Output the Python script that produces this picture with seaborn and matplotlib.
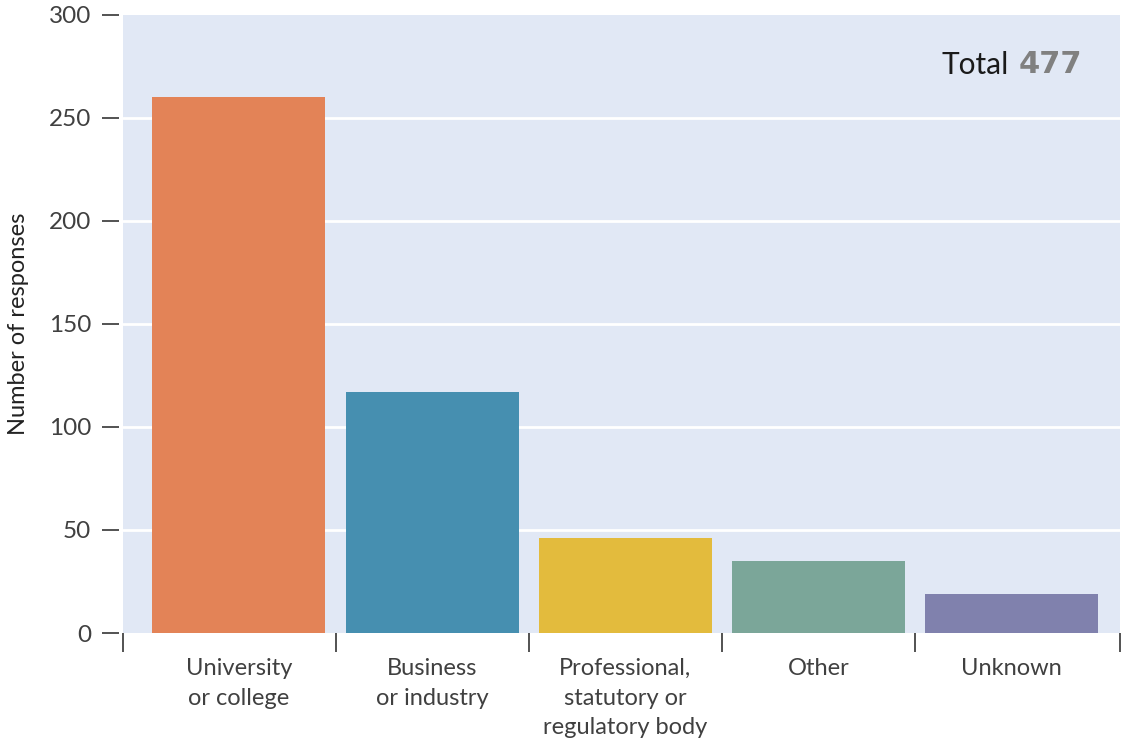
import matplotlib
matplotlib.use("Agg")
import matplotlib.pyplot as plt
import seaborn as sns
import pandas as pd
from matplotlib.ticker import FixedLocator

categories = ["University\nor college", "Business\nor industry",
              "Professional,\nstatutory or\nregulatory body", "Other", "Unknown"]
responses = [260, 117, 46, 35, 19]
colors = ["#E38357", "#468FB0", "#E3BB3D", "#7BA699", "#8081AD"]
y_ticks = [0, 50, 100, 150, 200, 250, 300]
total_label = "Total"
total_value = "477"

df = pd.DataFrame({"category": categories, "responses": responses})

sns.set_theme(style="white")
plt.rcParams['font.family'] = ['Lato', 'DejaVu Sans']

fig = plt.figure(figsize=(11.23, 7.42), dpi=100)
ax = fig.add_axes([0.1095, 0.1469, 0.9973 - 0.1095, 0.9798 - 0.1469])
ax.set_facecolor("#E1E8F5")

sns.barplot(data=df, x="category", y="responses", hue="category",
            palette=colors, width=0.895, ax=ax, legend=False, saturation=1,
            linewidth=0, edgecolor="none")

ax.set_xlim(-0.6, 4.56)
ax.set_ylim(0, 300)
ax.set_yticks(y_ticks)
for y in y_ticks[1:-1]:
    ax.axhline(y, color="white", lw=2, zorder=0.5)

for s in ax.spines.values():
    s.set_visible(False)
ax.spines['left'].set_position(('outward', 3))

ax.tick_params(axis='y', which='major', left=True, length=12, width=1.3,
               color="#444444", labelsize=17.5, labelcolor="#404040", pad=8)
ax.tick_params(axis='x', which='major', bottom=True, length=0, pad=18,
               labelsize=17, labelcolor="#404040")
ax.xaxis.set_minor_locator(FixedLocator([-0.6, 0.5, 1.5, 2.5, 3.5, 4.56]))
ax.tick_params(axis='x', which='minor', bottom=True, length=14, width=1.3,
               color="#444444")
for lab in ax.get_xticklabels():
    lab.set_linespacing(1.5)

ax.set_xlabel("")
ax.set_ylabel("Number of responses", fontsize=17, color="#222222",
              labelpad=14)

t1 = ax.text(0.821, 0.904, total_label, transform=ax.transAxes, fontsize=21.5,
             color="#1a1a1a", ha="left", va="baseline")
ax.annotate(total_value, xy=(1, 0), xycoords=t1, xytext=(7, 0),
            textcoords="offset points", fontsize=22,
            color="#808080", fontweight="bold", family=["DejaVu Sans"],
            ha="left", va="bottom")

fig.savefig("out.png", dpi=100)
